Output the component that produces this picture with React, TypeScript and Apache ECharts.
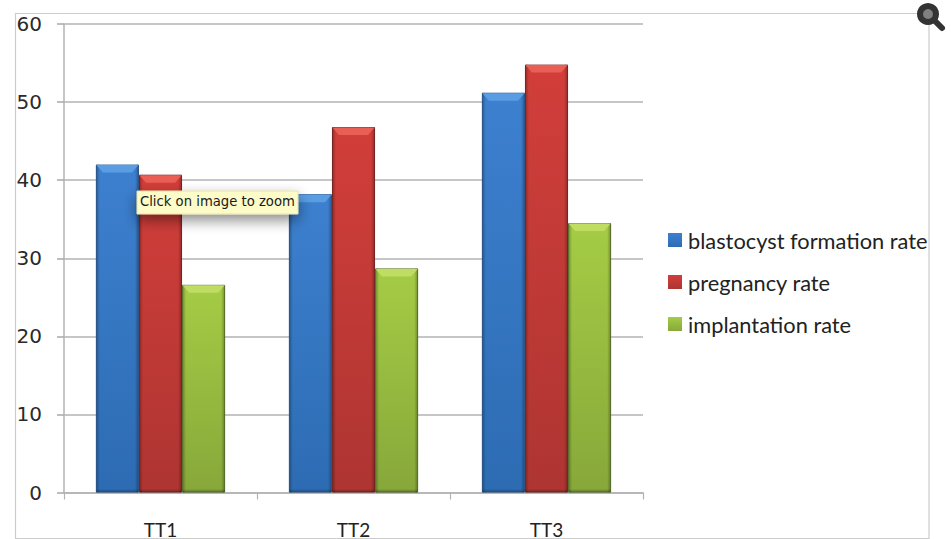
import React, { useEffect, useRef } from "react";
import * as echarts from "echarts";

const categories = ["TT1", "TT2", "TT3"];
const blastocyst = [42, 38.2, 51.2];
const pregnancy = [40.7, 46.8, 54.8];
const implantation = [26.6, 28.7, 34.5];
const seriesNames = ["blastocyst formation rate", "pregnancy rate", "implantation rate"];
const seriesValues = [blastocyst, pregnancy, implantation];
const yTicks = { min: 0, max: 60, interval: 10 };

const palettes = [
  { top: "#3d80cf", bottom: "#2d6cb3", edge: "#2a5f9e", bevel: "#5a9de2" },
  { top: "#d23e3a", bottom: "#ae3532", edge: "#842826", bevel: "#e95e55" },
  { top: "#a5cc45", bottom: "#87a83a", edge: "#617c2b", bevel: "#bedd62" },
];
const CAT_GAP = 0.33;

const barGradient = (p: any) =>
  new echarts.graphic.LinearGradient(0, 0, 0, 1, [
    { offset: 0, color: p.top },
    { offset: 1, color: p.bottom },
  ]);

const shade = (x0: number, y0: number, x1: number, y1: number) =>
  new echarts.graphic.LinearGradient(x0, y0, x1, y1, [
    { offset: 0, color: "rgba(0,0,0,0.28)" },
    { offset: 1, color: "rgba(0,0,0,0)" },
  ]);

const bevelData = seriesValues.flatMap((vals, s) => vals.map((v, c) => [c, s, v]));

export default function App() {
  const ref = useRef<HTMLDivElement>(null);
  useEffect(() => {
    document.body.style.margin = "0";
    document.body.style.background = "#fff";
    const chart = echarts.init(ref.current!, undefined, { renderer: "svg" });
    const axisColor = "#b3b3b3";
    const font = "Lato";
    chart.setOption({
      animation: false,
      backgroundColor: "#ffffff",
      textStyle: { fontFamily: font },
      grid: { left: 64, right: 308, top: 24, bottom: 46.5 },
      legend: {
        show: true,
        orient: "vertical",
        left: 663,
        top: 224,
        itemWidth: 14,
        itemHeight: 14,
        itemGap: 20,
        icon: "rect",
        data: seriesNames,
        formatter: (n: string) => n,
        itemStyle: { borderWidth: 0 },
        textStyle: { fontFamily: font, fontSize: 21.8, color: "#222222", padding: [0, 0, 0, 1] },
      },
      xAxis: {
        type: "category",
        data: categories,
        axisLine: { lineStyle: { color: axisColor, width: 1.5 } },
        axisTick: { show: true, length: 7, alignWithLabel: false, lineStyle: { color: axisColor, width: 1.2 } },
        axisLabel: { fontFamily: font, fontSize: 19, color: "#222222", margin: 27 },
      },
      yAxis: {
        type: "value",
        min: yTicks.min,
        max: yTicks.max,
        interval: yTicks.interval,
        axisLine: { show: true, lineStyle: { color: axisColor, width: 1.5 } },
        axisTick: { show: true, length: 7, lineStyle: { color: "#a8a8a8", width: 1.5 } },
        splitLine: { lineStyle: { color: axisColor, width: 1.5 } },
        axisLabel: { fontFamily: "DejaVu Sans", fontSize: 20, color: "#2a2a2a", margin: 22 },
      },
      series: [
        ...seriesNames.map((name, i) => ({
          type: "bar",
          name,
          data: seriesValues[i],
          barGap: "0%",
          barCategoryGap: `${CAT_GAP * 100}%`,
          itemStyle: {
            color: barGradient(palettes[i]),
            borderColor: palettes[i].edge,
            borderWidth: 1,
          },
        })),
        {
          type: "custom",
          name: "bevel",
          silent: true,
          z: 5,
          data: bevelData,
          renderItem: (_: any, api: any) => {
            const c = api.value(0);
            const s = api.value(1);
            const v = api.value(2);
            const pt = api.coord([c, v]);
            const base = api.coord([c, 0]);
            const band = api.size([1, 0])[0];
            const bw = (band * (1 - CAT_GAP)) / 3;
            const x0 = pt[0] - 1.5 * bw + s * bw;
            const h = 8;
            const inset = 7;
            const edge = 3.5;
            const height = base[1] - pt[1];
            return {
              type: "group",
              children: [
                {
                  type: "rect",
                  shape: { x: x0 + 0.5, y: pt[1], width: edge, height },
                  style: { fill: shade(0, 0, 1, 0) },
                },
                {
                  type: "rect",
                  shape: { x: x0 + bw - edge - 0.5, y: pt[1], width: edge, height },
                  style: { fill: shade(1, 0, 0, 0) },
                },
                {
                  type: "rect",
                  shape: { x: x0 + 0.5, y: base[1] - 4, width: bw - 1, height: 4 },
                  style: { fill: shade(0, 1, 0, 0) },
                },
                {
                  type: "polygon",
                  shape: {
                    points: [
                      [x0 + 0.5, pt[1] + 0.5],
                      [x0 + bw - 0.5, pt[1] + 0.5],
                      [x0 + bw - inset, pt[1] + h],
                      [x0 + inset, pt[1] + h],
                    ],
                  },
                  style: { fill: palettes[s].bevel, stroke: "none" },
                },
              ],
            };
          },
        },
      ],
      graphic: [
        {
          type: "rect",
          z: 0,
          silent: true,
          shape: { x: 15.5, y: 13.5, width: 913.5, height: 525 },
          style: { fill: "none", stroke: "#cccccc", lineWidth: 1.2 },
        },
        {
          type: "rect",
          z: 100,
          shape: { x: 137, y: 191, width: 161, height: 23 },
          style: {
            fill: "#fdfbc8",
            stroke: "#e6e2a8",
            lineWidth: 1,
            shadowColor: "rgba(0,0,0,0.45)",
            shadowBlur: 14,
            shadowOffsetY: 6,
          },
        },
        {
          type: "text",
          z: 101,
          x: 140,
          y: 195,
          style: { text: "Click on image to zoom", fontFamily: "DejaVu Sans", fontSize: 13.2, fill: "#1a1a1a" },
        },
        {
          type: "circle",
          z: 100,
          shape: { cx: 928, cy: 14, r: 8 },
          style: { fill: "#808080", stroke: "#333333", lineWidth: 6 },
        },
        {
          type: "line",
          z: 100,
          shape: { x1: 936, y1: 22, x2: 942, y2: 28 },
          style: { stroke: "#333333", lineWidth: 6, lineCap: "round" },
        },
      ],
    });
    return () => chart.dispose();
  }, []);
  return <div ref={ref} style={{ position: "absolute", left: 0, top: 0, width: 951, height: 539 }} />;
}
